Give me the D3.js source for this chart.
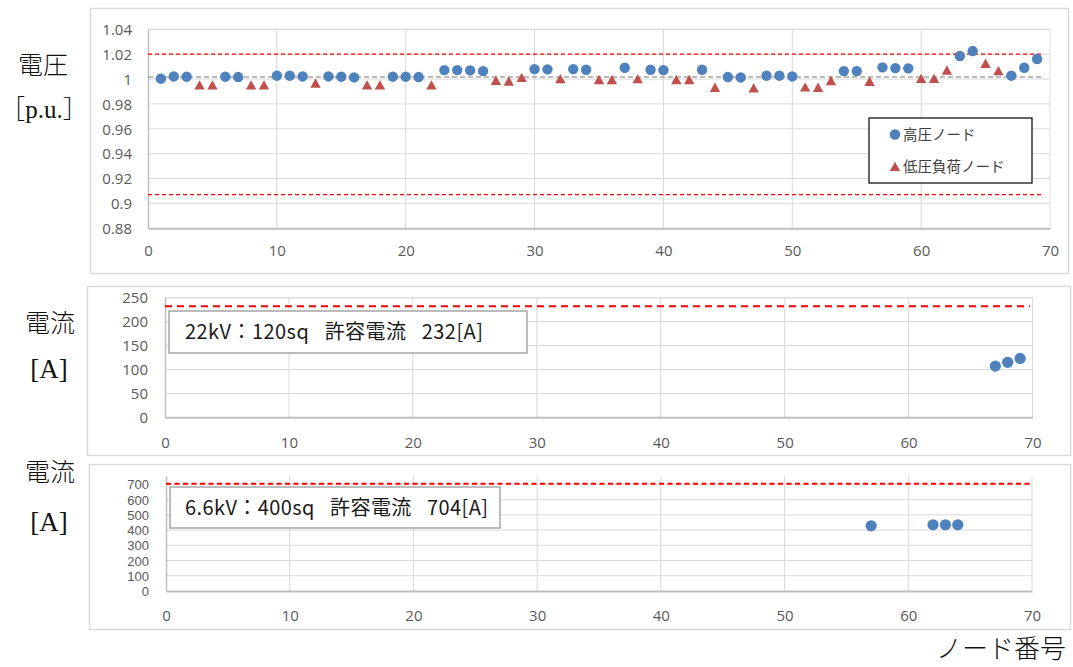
<!DOCTYPE html>
<html><head><meta charset="utf-8">
<script src="https://cdn.jsdelivr.net/npm/d3@7"></script>
<style>
body{margin:0;background:#fff;}
svg{display:block;}
</style></head><body>
<svg id="c" width="1073" height="667"></svg>
<script>
// ---------- data ----------
const nodeTicks = [0, 10, 20, 30, 40, 50, 60, 70];
const voltageTicks = [0.88, 0.90, 0.92, 0.94, 0.96, 0.98, 1.00, 1.02, 1.04];
const current22Ticks = [0, 50, 100, 150, 200, 250];
const current66Ticks = [0, 100, 200, 300, 400, 500, 600, 700];

const hvNodes =   [1, 2, 3, 6, 7, 10, 11, 12, 14, 15, 16, 19, 20, 21, 23, 24, 25, 26, 30, 31, 33, 34, 37, 39, 40, 43, 45, 46, 48, 49, 50, 54, 55, 57, 58, 59, 63, 64, 67, 68, 69];
const hvVoltage = [1.0003, 1.0021, 1.0019, 1.0019, 1.0016, 1.0027, 1.0027, 1.0021, 1.0021, 1.0019, 1.0013, 1.0019, 1.0019, 1.0016, 1.0072, 1.0072, 1.0070, 1.0064, 1.0080, 1.0078, 1.0080, 1.0075, 1.0091, 1.0075, 1.0072, 1.0075, 1.0016, 1.0013, 1.0027, 1.0027, 1.0021, 1.0064, 1.0064, 1.0094, 1.0088, 1.0086, 1.0185, 1.0225, 1.0027, 1.0091, 1.0161];

const lvNodes =   [4, 5, 8, 9, 13, 17, 18, 22, 27, 28, 29, 32, 35, 36, 38, 41, 42, 44, 47, 51, 52, 53, 56, 60, 61, 62, 65, 66];
const lvVoltage = [0.9952, 0.9952, 0.9952, 0.9952, 0.9968, 0.9952, 0.9952, 0.9952, 0.9989, 0.9984, 1.0013, 1.0003, 0.9995, 0.9995, 1.0003, 0.9995, 0.9995, 0.9933, 0.9928, 0.9936, 0.9933, 0.9987, 0.9981, 1.0005, 1.0005, 1.0072, 1.0126, 1.0067];

const voltageUpper = 1.02, voltageLower = 0.907, voltageBase = 1.0016;

const current22Nodes = [67, 68, 69];
const current22 = [107, 115, 123];
const current22Limit = 232;

const current66Nodes = [57, 62, 63, 64];
const current66 = [428, 435, 435, 435];
const current66Limit = 704;

const legendLabels = ["高圧ノード", "低圧負荷ノード"];
const box22Label = "22kV：120sq\u2002 許容電流\u2002 232[A]";
const box66Label = "6.6kV：400sq\u2002 許容電流\u2002 704[A]";

// ---------- drawing ----------
const svg = d3.select("#c");
const BLUE = "#4f81bd", REDM = "#c0504d";
const TICK_FONT = "'Open Sans','Noto Sans',sans-serif";
const NARROW_TICK_FONT = "'Liberation Sans','Arial',sans-serif";
const JP = "'Noto Sans CJK JP','Noto Sans',sans-serif";
const triPath = "M0,-4.8L5.2,4.6L-5.2,4.6Z";

function panel(o) {
  const g = svg.append("g");
  g.append("rect").attr("x", o.frame[0] + 0.5).attr("y", o.frame[1] + 0.5)
    .attr("width", o.frame[2]).attr("height", o.frame[3])
    .attr("fill", "#fff").attr("stroke", "#d9d9d9").attr("stroke-width", 1.5);
  const x = d3.scaleLinear().domain([0, 70]).range(o.xr);
  const y = d3.scaleLinear().domain(o.yd).range(o.yr);
  const top = o.yr[1];
  g.append("g").selectAll("line").data(o.yTicks.filter(v => v > o.yd[0])).join("line")
    .attr("x1", o.xr[0]).attr("x2", o.xr[1]).attr("y1", d => y(d)).attr("y2", d => y(d))
    .attr("stroke", "#d9d9d9").attr("stroke-width", 1);
  g.append("g").selectAll("line").data(nodeTicks.filter(v => v > 0)).join("line")
    .attr("x1", d => x(d)).attr("x2", d => x(d)).attr("y1", top).attr("y2", o.yr[0])
    .attr("stroke", "#d9d9d9").attr("stroke-width", 1);
  if (o.topLine) g.append("line").attr("x1", o.xr[0]).attr("x2", o.xr[1]).attr("y1", top).attr("y2", top)
    .attr("stroke", "#d9d9d9");
  const ax = g.append("g").attr("transform", `translate(0,${o.yr[0]})`)
    .call(d3.axisBottom(x).tickValues(nodeTicks).tickSize(0).tickFormat(d3.format("d")));
  ax.select(".domain").attr("stroke", "#bfbfbf").attr("stroke-width", 2);
  ax.selectAll("text").attr("y", o.xLabelOff).attr("dy", "0.35em")
    .attr("fill", "#595959").attr("font-size", 15).attr("font-family", TICK_FONT);
  const ay = g.append("g").attr("transform", `translate(${o.xr[0]},0)`)
    .call(d3.axisLeft(y).tickValues(o.yTicks).tickSize(0).tickFormat(o.fmt));
  ay.select(".domain").attr("stroke", "#bfbfbf").attr("stroke-width", 1.5);
  ay.selectAll("text").attr("x", -o.yLabelOff).attr("dy", "0.35em")
    .attr("fill", "#595959").attr("font-size", o.yFont).attr("font-family", o.yFamily || TICK_FONT);
  return {g, x, y};
}

// ---- top: voltage ----
const P1 = panel({frame: [90, 8, 978, 265], xr: [148, 1050], yr: [228.3, 29.3], yd: [0.88, 1.04],
  yTicks: voltageTicks, fmt: v => String(+v.toFixed(2)), xLabelOff: 22.5, yLabelOff: 16, topLine: true, yFont: 15});
{
  const {g, x, y} = P1;
  g.append("line").attr("x1", x(0)).attr("x2", x(69.4)).attr("y1", y(voltageBase)).attr("y2", y(voltageBase))
    .attr("stroke", "#a6a6a6").attr("stroke-width", 1.5).attr("stroke-dasharray", "5,3");
  [voltageUpper, voltageLower].forEach(v => g.append("line").attr("x1", x(0)).attr("x2", x(69.3))
    .attr("y1", y(v)).attr("y2", y(v)).attr("stroke", "#ff0000").attr("stroke-width", 1.2)
    .attr("stroke-dasharray", "4,3"));
  g.append("g").selectAll("path").data(lvNodes.map((n, i) => [n, lvVoltage[i]])).join("path")
    .attr("d", triPath).attr("transform", d => `translate(${x(d[0])},${y(d[1])})`).attr("fill", REDM);
  g.append("g").selectAll("circle").data(hvNodes.map((n, i) => [n, hvVoltage[i]])).join("circle")
    .attr("cx", d => x(d[0])).attr("cy", d => y(d[1])).attr("r", 5.2).attr("fill", BLUE);
  const lg = g.append("g");
  lg.append("rect").attr("x", 869).attr("y", 118).attr("width", 163).attr("height", 65)
    .attr("fill", "#fff").attr("stroke", "#000").attr("stroke-width", 1.2);
  lg.append("circle").attr("cx", 895).attr("cy", 134.5).attr("r", 5.2).attr("fill", BLUE);
  lg.append("path").attr("d", triPath).attr("transform", "translate(895,166.5)").attr("fill", REDM);
  lg.selectAll("text").data(legendLabels).join("text")
    .attr("x", 903).attr("y", (d, i) => 134.5 + i * 32).attr("dy", "0.35em")
    .attr("font-size", 14.5).attr("font-family", JP).attr("fill", "#404040").text(d => d);
}

// ---- middle: 22kV current ----
const P2 = panel({frame: [87, 286, 983, 169], xr: [165, 1032.5], yr: [417.3, 297.7], yd: [0, 250],
  yTicks: current22Ticks, fmt: d3.format("d"), xLabelOff: 25, yLabelOff: 17, topLine: true, yFont: 15});
{
  const {g, x, y} = P2;
  g.append("line").attr("x1", x(0)).attr("x2", x(69.8)).attr("y1", y(current22Limit)).attr("y2", y(current22Limit))
    .attr("stroke", "#ff0000").attr("stroke-width", 2).attr("stroke-dasharray", "7,5");
  g.append("rect").attr("x", 169).attr("y", 311).attr("width", 358).attr("height", 42)
    .attr("fill", "#fff").attr("stroke", "#a6a6a6").attr("stroke-width", 1.5);
  g.append("text").attr("x", 185).attr("y", 332).attr("dy", "0.35em").attr("font-size", 20)
    .attr("textLength", 298).attr("lengthAdjust", "spacing")
    .attr("font-family", JP).attr("fill", "#1a1a1a").text(box22Label);
  g.append("g").selectAll("circle").data(current22Nodes.map((n, i) => [n, current22[i]])).join("circle")
    .attr("cx", d => x(d[0])).attr("cy", d => y(d[1])).attr("r", 5.6).attr("fill", BLUE);
}

// ---- bottom: 6.6kV current ----
const P3 = panel({frame: [89, 464, 981, 165], xr: [166, 1032], yr: [591, 475.7], yd: [0, 757],
  yTicks: current66Ticks, fmt: d3.format("d"), xLabelOff: 24.5, yLabelOff: 17, topLine: false,
  yFont: 13, yFamily: NARROW_TICK_FONT});
{
  const {g, x, y} = P3;
  g.append("line").attr("x1", x(0)).attr("x2", x(70)).attr("y1", y(current66Limit)).attr("y2", y(current66Limit))
    .attr("stroke", "#ff0000").attr("stroke-width", 1.8).attr("stroke-dasharray", "5,3.5");
  g.append("rect").attr("x", 170).attr("y", 487).attr("width", 330).attr("height", 41)
    .attr("fill", "#fff").attr("stroke", "#a6a6a6").attr("stroke-width", 1.5);
  g.append("text").attr("x", 185).attr("y", 508).attr("dy", "0.35em").attr("font-size", 20)
    .attr("textLength", 303).attr("lengthAdjust", "spacing")
    .attr("font-family", JP).attr("fill", "#1a1a1a").text(box66Label);
  g.append("g").selectAll("circle").data(current66Nodes.map((n, i) => [n, current66[i]])).join("circle")
    .attr("cx", d => x(d[0])).attr("cy", d => y(d[1])).attr("r", 5.6).attr("fill", BLUE);
}

// ---- outer labels ----
const SERIF = "'Liberation Serif','DejaVu Serif','Noto Sans CJK JP',serif";
const labels = [
  {t: "電圧", x: 43, y: 65, f: JP, s: 25},
  {t: "［p.u.］", x: 44, y: 109, f: SERIF, s: 25},
  {t: "電流", x: 50, y: 323, f: JP, s: 25},
  {t: "[A]", x: 49, y: 369, f: SERIF, s: 27},
  {t: "電流", x: 50, y: 472, f: JP, s: 25},
  {t: "[A]", x: 49, y: 522, f: SERIF, s: 27}
];
svg.append("g").selectAll("text").data(labels).join("text")
  .attr("x", d => d.x).attr("y", d => d.y).attr("dy", "0.35em").attr("text-anchor", "middle")
  .attr("font-family", d => d.f).attr("font-size", d => d.s).attr("font-weight", 300)
  .attr("fill", "#111").text(d => d.t);
svg.append("text").attr("x", 1066).attr("y", 649).attr("dy", "0.35em").attr("text-anchor", "end")
  .attr("font-family", JP).attr("font-size", 26).attr("font-weight", 300).attr("fill", "#111").text("ノード番号");
</script>
</body></html>
